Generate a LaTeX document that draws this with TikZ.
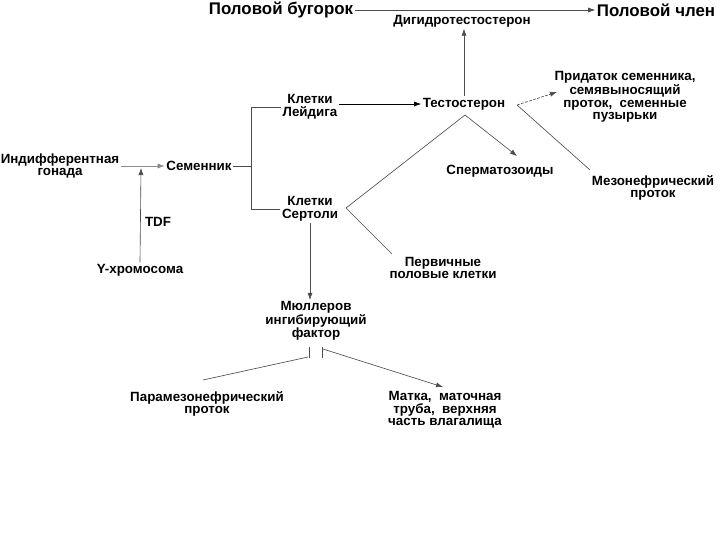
\documentclass[tikz,border=0pt]{standalone}
\usepackage{fontspec}
\setmainfont{Liberation Sans}
\usetikzlibrary{arrows.meta,calc}
\tikzset{
	lbl/.style={font=\bfseries\fontsize{9.5}{9}\selectfont, align=center, inner sep=1pt},
	biglbl/.style={font=\bfseries\fontsize{12}{12}\selectfont, inner sep=1pt},
	smalllbl/.style={font=\bfseries\fontsize{9.5}{9}\selectfont, inner sep=1pt},
	link/.style={draw=black!70, line width=0.45pt},
	arr/.style={link, -{Latex[length=5pt,width=3.6pt]}},
	bar/.style={draw=black!70, line width=0.6pt}
}

\begin{document}
\begin{tikzpicture}[x=0.025cm, y=-0.025cm]
			%%%%% START %%%%%
			
			\fill[white] (0, 0) rectangle (720, 540);
			\useasboundingbox (0, 0) rectangle (720, 540);
			
			\node[biglbl] (bugorok) at (281, 10) {Половой бугорок};
			\node[biglbl] (chlen) at (656, 10) {Половой член};
			\node[smalllbl] (dht) at (462, 21) {Дигидротестостерон};
			\draw[arr] (bugorok.east) -- (chlen.west);
			
			\node[lbl] (testo) at (464, 104) {Тестостерон};
			\node[lbl] (leydig) at (310, 107) {Клетки\\Лейдига};
			\node[lbl] (sertoli) at (310, 209) {Клетки\\Сертоли};
			\node[lbl] (semen) at (199, 166) {Семенник};
			\node[lbl] (gonad) at (60, 166) {Индифферентная\\гонада};
			\node[lbl] (tdf) at (158, 222) {TDF};
			\node[lbl] (ychr) at (140, 270) {Y-хромосома};
			
			\node[lbl] (sperm) at (500, 171) {Сперматозоиды};
			\node[lbl] (germ) at (443, 268) {Первичные\\половые клетки};
			\node[lbl] (pridatok) at (625, 97) {Придаток семенника,\\семявыносящий\\проток,\ \ семенные\\пузырьки};
			\node[lbl] (mezo) at (653, 188) {Мезонефрический\\проток};
			
			\node[lbl] (muller) at (316, 321) {Мюллеров\\ингибирующий\\фактор};
			\node[lbl] (param) at (207, 404) {Парамезонефрический\\проток};
			\node[lbl] (matka) at (445, 410) {Матка,\ \ маточная\\труба,\ \ верхняя\\часть влагалища};
			
			% joints
			\coordinate (yjoin) at (141, 168);
			\coordinate (fork) at (251, 166);
			\coordinate (sapex) at (346, 208);
			\coordinate (tbase) at (465, 115);
			\coordinate (tapex) at (517, 105);
			\coordinate (spermtip) at (517, 156);
			\coordinate (pridtip) at (557, 92);
			\coordinate (mezoend) at (590, 170);
			\coordinate (germend) at (392, 254);
			\coordinate (barL) at (309, 352);
			\coordinate (barR) at (322, 352);
			\coordinate (paramend) at (203, 380);
			\coordinate (matkatip) at (443, 387);
			
			\draw[arr] (testo.north) -- (testo.north |- dht.south);
			\draw[arr, draw=black] (leydig.east |- testo.west) -- (testo.west);
			\draw[arr, draw=black!45] (gonad.east) -- (semen.west);
			\draw[arr] (ychr.north) -- (yjoin);
			
			\draw[link] (semen.east) -- (fork);
			\draw[link] (fork |- leydig) -- (fork |- sertoli);
			\draw[link] (fork |- leydig) -- (leydig.west);
			\draw[link] (fork |- sertoli) -- (sertoli.west);
			
			\draw[link] (tbase) -- (sapex) -- (germend);
			\draw[arr] (tbase) -- (spermtip);
			\draw[arr, dash pattern=on 2pt off 1pt] (tapex) -- (pridtip);
			\draw[link] (tapex) -- (mezoend);
			
			\draw[arr] (sertoli.south) -- (sertoli.south |- muller.north);
			\draw[bar] ($(barL)+(0,-5)$) -- ($(barL)+(0,6)$);
			\draw[bar] ($(barR)+(0,-5)$) -- ($(barR)+(0,6)$);
			\draw[link] ($(barL)+(-1,5)$) -- (paramend);
			\draw[arr] ($(barR)+(1,-3)$) -- (matkatip);
			
			%%%%% END %%%%%
\end{tikzpicture}
\end{document}
